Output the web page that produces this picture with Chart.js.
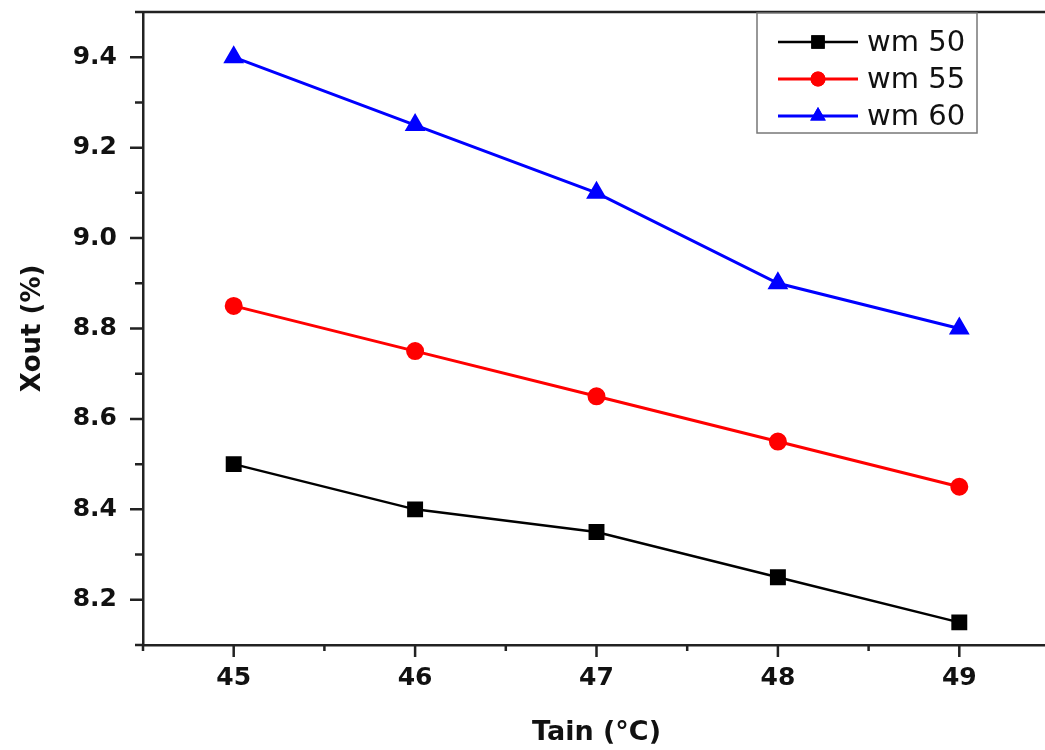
<!DOCTYPE html>
<html>
<head>
<meta charset="utf-8">
<script src="https://cdn.jsdelivr.net/npm/chart.js@4/dist/chart.umd.min.js"></script>
<style>
    html, body { margin: 0; padding: 0; background: #fff; overflow: hidden; }
    #wrap { width: 1062px; height: 750px; position: relative; }
</style>
</head>
<body>
<div id="wrap"><canvas id="xout-chart"></canvas></div>
<script>
// Inlet air temperature (°C)
const tain = [45, 46, 47, 48, 49];

// Outlet moisture for each wm setting
const wm50 = [8.5, 8.4, 8.35, 8.25, 8.15];
const wm55 = [8.85, 8.75, 8.65, 8.55, 8.45];
const wm60 = [9.4, 9.25, 9.1, 8.9, 8.8];

const seriesLabels = ['wm 50', 'wm 55', 'wm 60'];

// Labelled ticks on each axis
const xTicks = [45, 46, 47, 48, 49];
const yTicks = [8.2, 8.4, 8.6, 8.8, 9.0, 9.2, 9.4];

function toPoints(values) {
    return tain.map((t, i) => ({ x: t, y: values[i] }));
}

// Draws the axis frame ticks (major outward, minor in between)
const axisTicks = {
    id: 'axisTicks',
    afterDraw(chart) {
        const ctx = chart.ctx;
        const area = chart.chartArea;
        const xs = chart.scales.x, ys = chart.scales.y;
        ctx.save();
        ctx.strokeStyle = '#222';
        ctx.lineWidth = 2.5;
        ctx.beginPath();
        // top and right border
        ctx.moveTo(area.left, area.top);
        ctx.lineTo(area.right, area.top);
        ctx.lineTo(area.right, area.bottom);
        for (let i = 0; i <= 10; i++) {
            const v = xs.min + i * 0.5;
            const px = xs.getPixelForValue(v);
            const major = i % 2 === 1;
            ctx.moveTo(px, area.bottom);
            ctx.lineTo(px, area.bottom + (major ? 12 : 6));
        }
        for (let i = 0; i <= 14; i++) {
            const v = ys.min + i * 0.1;
            const py = ys.getPixelForValue(v);
            const major = i % 2 === 1;
            ctx.moveTo(area.left, py);
            ctx.lineTo(area.left - (major ? 13 : 8), py);
        }
        ctx.stroke();
        ctx.restore();
    }
};

// Boxed legend in the upper right corner
const boxLegend = {
    id: 'boxLegend',
    afterDraw(chart) {
        const ctx = chart.ctx;
        const box = { x: 757, y: 13, w: 220, h: 120 };
        ctx.save();
        ctx.fillStyle = '#fff';
        ctx.fillRect(box.x, box.y, box.w, box.h);
        ctx.strokeStyle = '#777';
        ctx.lineWidth = 1.5;
        ctx.strokeRect(box.x, box.y, box.w, box.h);
        chart.data.datasets.forEach((ds, i) => {
            const y = 42 + i * 37;
            ctx.strokeStyle = ds.borderColor;
            ctx.lineWidth = ds.borderWidth;
            ctx.beginPath();
            ctx.moveTo(778, y);
            ctx.lineTo(858, y);
            ctx.stroke();
            ctx.fillStyle = ds.pointBackgroundColor;
            Chart.helpers.drawPoint(ctx, {
                pointStyle: ds.pointStyle,
                radius: ds.pointRadius,
                borderWidth: 0,
                rotation: 0
            }, 818, y);
            ctx.fill();
            ctx.fillStyle = '#111';
            ctx.font = '29px "DejaVu Sans"';
            ctx.textBaseline = 'middle';
            ctx.textAlign = 'left';
            ctx.fillText(ds.label, 867, y + 1);
        });
        ctx.restore();
    }
};

const ctx = document.getElementById('xout-chart').getContext('2d');
const chart = new Chart(ctx, {
    type: 'line',
    data: {
        datasets: [
            {
                label: seriesLabels[0],
                data: toPoints(wm50),
                borderColor: '#000',
                pointBackgroundColor: '#000',
                borderWidth: 2.5,
                pointStyle: 'rect',
                pointRadius: 9.5
            },
            {
                label: seriesLabels[1],
                data: toPoints(wm55),
                borderColor: '#ff0000',
                pointBackgroundColor: '#ff0000',
                borderWidth: 3,
                pointStyle: 'circle',
                pointRadius: 7.5
            },
            {
                label: seriesLabels[2],
                data: toPoints(wm60),
                borderColor: '#0000ff',
                pointBackgroundColor: '#0000ff',
                borderWidth: 3,
                pointStyle: 'triangle',
                pointRadius: 9
            }
        ]
    },
    options: {
        responsive: true,
        maintainAspectRatio: false,
        animation: false,
        layout: { padding: { top: 9, right: 3, left: 0, bottom: 0 } },
        elements: {
            line: { tension: 0 },
            point: { borderWidth: 0, hoverRadius: 9 }
        },
        plugins: {
            legend: { display: false },
            tooltip: { enabled: false }
        },
        scales: {
            x: {
                type: 'linear',
                min: 44.5,
                max: 49.5,
                afterBuildTicks: (scale) => { scale.ticks = xTicks.map(v => ({ value: v })); },
                afterFit: (scale) => {
                    scale.height = 105;
                    scale.paddingLeft = 0;
                    scale.paddingRight = 0;
                },
                ticks: {
                    padding: 18,
                    color: '#111',
                    font: { family: '"DejaVu Sans"', size: 25, weight: 'bold' },
                    callback: (v) => String(v)
                },
                grid: { display: false, drawTicks: false },
                border: { display: true, color: '#222', width: 2.5 },
                title: {
                    display: true,
                    text: 'Tain (°C)',
                    color: '#111',
                    font: { family: '"DejaVu Sans"', size: 27, weight: 'bold' },
                    padding: { top: 0, bottom: 1 }
                }
            },
            y: {
                min: 8.1,
                max: 9.5,
                afterBuildTicks: (scale) => { scale.ticks = yTicks.map(v => ({ value: v })); },
                afterFit: (scale) => {
                    scale.width = 143;
                    scale.paddingTop = 0;
                    scale.paddingBottom = 0;
                },
                ticks: {
                    padding: 26,
                    color: '#111',
                    font: { family: '"DejaVu Sans"', size: 25, weight: 'bold' },
                    callback: (v) => Number(v).toFixed(1)
                },
                grid: { display: false, drawTicks: false },
                border: { display: true, color: '#222', width: 2.5 },
                title: {
                    display: true,
                    text: 'Xout (%)',
                    color: '#111',
                    font: { family: '"DejaVu Sans"', size: 26, weight: 'bold' },
                    padding: { top: 18, bottom: 0 }
                }
            }
        }
    },
    plugins: [axisTicks, boxLegend]
});
</script>
</body>
</html>
